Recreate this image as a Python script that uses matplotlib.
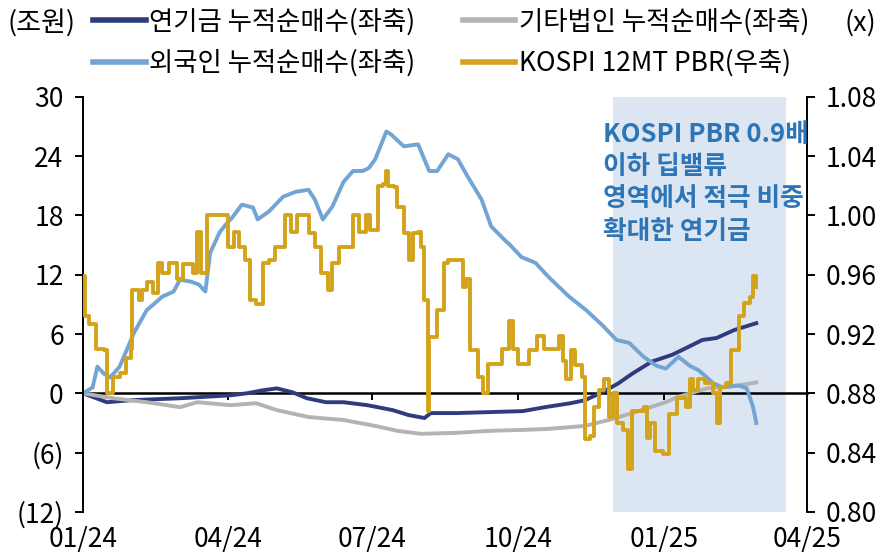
import matplotlib
matplotlib.use("Agg")
import matplotlib.pyplot as plt
import matplotlib.dates as mdates
import matplotlib.ticker as mticker
import numpy as np
import pandas as pd

plt.rcParams['font.family'] = ['Noto Sans CJK KR', 'DejaVu Sans']

# all x values are days after 2024-01-01
start = pd.Timestamp("2024-01-01")

# 외국인 누적순매수 (조원, left axis)
foreign_days = [0, 6, 9, 13, 17, 23, 32, 40, 50, 57, 61, 68, 73, 77, 80, 86, 91, 94, 100, 107,
                110, 117, 126, 134, 142, 146, 151, 157, 164, 170, 176, 180, 184, 191, 194, 202,
                211, 218, 223, 230, 236, 242, 251, 257, 265, 269, 276, 285, 293, 306, 317, 327,
                336, 344, 353, 361, 367, 375, 382, 388, 397, 403, 413, 418, 422, 424]
foreign_vals = [0, 0.6, 2.7, 2.0, 1.6, 2.7, 6.1, 8.4, 9.8, 10.3, 11.5, 11.3, 11.0, 10.3, 14.2, 16.3,
                17.3, 17.8, 19.1, 18.8, 17.6, 18.4, 19.9, 20.4, 20.6, 19.6, 17.6, 18.9, 21.4, 22.5,
                22.5, 22.8, 23.7, 26.5, 26.2, 25.0, 25.2, 22.5, 22.5, 24.2, 23.7, 22.0, 19.6, 16.9,
                15.6, 15.0, 13.8, 13.2, 11.8, 9.8, 8.4, 6.9, 5.4, 5.1, 3.7, 2.8, 2.5, 3.7, 2.8, 2.3,
                1.0, 0.6, 0.8, 0.5, -1.4, -3.0]

# 연기금 누적순매수 (조원, left axis)
pension_days = [0, 15, 30, 61, 93, 103, 113, 122, 132, 141, 153, 164, 179, 195, 205, 215, 219,
                235, 256, 277, 291, 307, 316, 327, 337, 346, 358, 371, 380, 390, 399, 410, 424]
pension_vals = [0, -0.9, -0.7, -0.5, -0.2, 0, 0.3, 0.5, 0.1, -0.5, -0.9, -0.9, -1.2, -1.7, -2.2,
                -2.5, -2.0, -2.0, -1.9, -1.8, -1.4, -1.0, -0.7, 0.1, 1.0, 2.0, 3.2, 3.9, 4.6, 5.4,
                5.6, 6.4, 7.1]

# 기타법인 누적순매수 (조원, left axis)
other_days = [0, 19, 40, 61, 72, 93, 109, 122, 142, 164, 184, 198, 213, 235, 256, 277, 293, 316,
              331, 346, 367, 374, 393, 413, 424]
other_vals = [0, -0.5, -0.9, -1.4, -0.9, -1.2, -1.0, -1.7, -2.4, -2.7, -3.3, -3.8, -4.1, -4.0,
              -3.8, -3.7, -3.6, -3.3, -2.7, -2.0, -0.9, -0.4, 0.5, 0.8, 1.1]

# KOSPI 12MT PBR (x, right axis)
pbr_days = [0, 1, 4, 8, 13, 15, 17, 19, 23, 27, 30, 31, 35, 37, 40, 44, 47, 50, 54, 59, 63, 69,
            72, 74, 78, 82, 88, 90, 91, 95, 98, 102, 105, 109, 113, 117, 121, 127, 131, 135, 139,
            142, 146, 150, 154, 157, 161, 165, 170, 174, 178, 181, 186, 189, 191, 192, 196, 198,
            202, 205, 208, 211, 213, 215, 217, 218, 223, 227, 230, 237, 239, 241, 244, 249, 252,
            255, 261, 264, 268, 271, 274, 281, 286, 290, 296, 300, 302, 304, 307, 310, 314, 316,
            319, 322, 325, 328, 331, 334, 336, 340, 343, 346, 353, 355, 357, 360, 365, 369, 374,
            380, 382, 384, 387, 392, 397, 399, 401, 405, 408, 413, 416, 420, 422, 424]
pbr_vals = [0.959, 0.932, 0.927, 0.910, 0.909, 0.880, 0.880, 0.891, 0.894, 0.904, 0.910, 0.950,
            0.943, 0.950, 0.955, 0.948, 0.968, 0.961, 0.968, 0.957, 0.967, 0.961, 0.989, 0.961,
            1.000, 1.000, 1.000, 1.000, 0.979, 0.989, 0.979, 0.970, 0.943, 0.940, 0.968, 0.970,
            0.979, 1.000, 0.989, 1.000, 1.000, 0.988, 0.979, 0.961, 0.950, 0.968, 0.979, 0.979,
            1.000, 0.989, 1.000, 0.990, 1.020, 1.021, 1.030, 1.020, 1.019, 1.006, 0.988, 0.970,
            0.988, 0.989, 0.979, 0.943, 0.868, 0.918, 0.936, 0.968, 0.970, 0.970, 0.952, 0.957,
            0.909, 0.891, 0.880, 0.900, 0.900, 0.910, 0.929, 0.910, 0.900, 0.909, 0.919, 0.910,
            0.910, 0.919, 0.902, 0.890, 0.909, 0.899, 0.891, 0.849, 0.851, 0.871, 0.882, 0.890,
            0.864, 0.880, 0.860, 0.855, 0.829, 0.868, 0.871, 0.850, 0.860, 0.841, 0.839, 0.866,
            0.877, 0.871, 0.890, 0.882, 0.890, 0.887, 0.880, 0.860, 0.884, 0.887, 0.909, 0.932,
            0.941, 0.945, 0.959, 0.952]

shade_start, shade_end = "2024-11-30", "2025-03-19"

navy = "#2E3C7E"
lightblue = "#72A4D4"
gray = "#B3B3B3"
gold = "#D4A31C"
note_blue = "#2E75B6"


def to_dates(days):
    return start + pd.to_timedelta(days, unit="D")


fig = plt.figure(figsize=(8.84, 5.57), dpi=100)
ax = fig.add_axes([0.094, 0.081, 0.819, 0.745])
ax2 = ax.twinx()

ax.axvspan(pd.Timestamp(shade_start), pd.Timestamp(shade_end), color="#DCE6F2", zorder=0, lw=0)

lw = 2.8
l_pen, = ax.plot(to_dates(pension_days), pension_vals, color=navy, lw=lw, label="연기금 누적순매수(좌축)")
l_oth, = ax.plot(to_dates(other_days), other_vals, color=gray, lw=lw, label="기타법인 누적순매수(좌축)")
l_for, = ax.plot(to_dates(foreign_days), foreign_vals, color=lightblue, lw=lw, label="외국인 누적순매수(좌축)")
l_pbr, = ax2.plot(to_dates(pbr_days), pbr_vals, color=gold, lw=lw, drawstyle="steps-post",
                  label="KOSPI 12MT PBR(우축)")

ax.set_xlim(pd.Timestamp("2024-01-01"), pd.Timestamp("2025-04-01"))
ax.set_ylim(-12, 30)
ax2.set_ylim(0.80, 1.08)

lticks = list(range(-12, 31, 6))
ax.set_yticks(lticks)
ax.set_yticklabels([f"({-v})" if v < 0 else str(v) for v in lticks])
rticks = np.arange(0.80, 1.081, 0.04)
ax2.set_yticks(rticks)
ax2.set_yticklabels([f"{v:.2f}" for v in rticks])

ax.xaxis.set_major_locator(mdates.MonthLocator(bymonth=[1, 4, 7, 10]))
ax.xaxis.set_major_formatter(mdates.DateFormatter("%m/%y"))

for a in (ax, ax2):
    a.spines["top"].set_visible(False)
    a.spines["bottom"].set_visible(False)
ax.spines["right"].set_visible(False)
ax.spines["left"].set_linewidth(1.4)
ax2.spines["right"].set_linewidth(1.4)
ax2.spines["left"].set_visible(False)

ax.tick_params(axis="y", direction="out", length=6, width=1.4, labelsize=19, pad=8)
ax2.tick_params(axis="y", direction="out", length=6, width=1.4, labelsize=19, pad=7)
ax.tick_params(axis="x", length=0, labelsize=19, pad=10)

# zero line acting as x axis, ticks hanging down
sec = ax.secondary_xaxis(12 / 42)
sec.xaxis.set_major_locator(mdates.MonthLocator(bymonth=[1, 4, 7, 10]))
sec.xaxis.set_major_formatter(mticker.NullFormatter())
sec.spines["bottom"].set_linewidth(1.8)
sec.tick_params(axis="x", direction="out", length=5, width=1.4)

fig.text(603 / 884, 1 - 121 / 557, "KOSPI PBR 0.9배\n이하 딥밸류\n영역에서 적극 비중\n확대한 연기금",
         color=note_blue, fontsize=18.5, fontweight="bold", va="top", ha="left", linespacing=1.25)

fig.text(7 / 884, 1 - 23 / 557, "(조원)", fontsize=19.5, va="center", ha="left")
fig.text(876 / 884, 1 - 23 / 557, "(x)", fontsize=19.5, va="center", ha="right")

fig.legend(handles=[l_pen, l_for, l_oth, l_pbr], ncol=2, loc="upper left",
           bbox_to_anchor=(93 / 884, 1 - 8 / 557), frameon=False, fontsize=19,
           handlelength=2.0, handletextpad=0.12, columnspacing=1.8, labelspacing=0.55,
           borderpad=0, borderaxespad=0)
for line in fig.legends[0].get_lines():
    line.set_linewidth(4)

fig.savefig("out.png", dpi=100)
